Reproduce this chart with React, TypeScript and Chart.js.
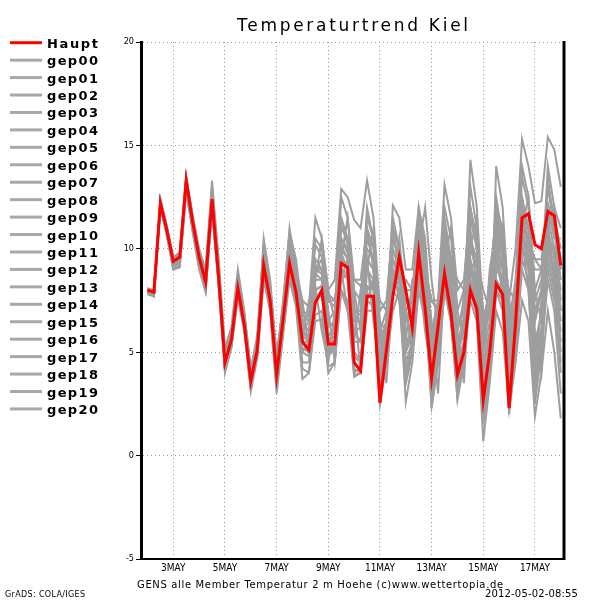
import React, { useEffect, useRef } from "react";
import { Chart, registerables } from "chart.js";

Chart.register(...registerables);

// Time axis: 6-hourly steps starting 2 May 00Z (step index)
const tickSteps = [4, 12, 20, 28, 36, 44, 52, 60];
const tickLabels = ["3MAY", "5MAY", "7MAY", "9MAY", "11MAY", "13MAY", "15MAY", "17MAY"];
const yTicks = [-5, 0, 5, 10, 15, 20];

const titleText = "Temperaturtrend Kiel";
const captionText = "GENS alle Member Temperatur 2 m Hoehe (c)www.wettertopia.de";
const dateText = "2012-05-02-08:55";
const gradsText = "GrADS: COLA/IGES";

const mainName = "Haupt";
const memberNames = [
  "gep00", "gep01", "gep02", "gep03", "gep04", "gep05", "gep06", "gep07", "gep08", "gep09", "gep10",
  "gep11", "gep12", "gep13", "gep14", "gep15", "gep16", "gep17", "gep18", "gep19", "gep20",
];

const haupt = [8.0,7.9,12.2,10.9, 9.4,9.6,13.3,11.3, 9.6,8.4,12.4,8.7, 4.5,5.6,8.1,6.3, 3.6,5.1,9.2,7.5, 3.9,6.6,9.3,7.9, 5.5,5.1,7.4,8.0, 5.4,5.4,9.3,9.1, 4.5,4.1,7.7,7.7, 2.55,5.1,7.7,9.6, 8.0,6.2,9.8,7.1, 3.75,6.25,8.8,6.9, 3.9,5.0,8.0,7.1, 2.7,5.0,8.3,7.8, 2.3,6.4,11.5,11.7, 10.2,10.0,11.8,11.6, 9.2];

const gep00 = [8.0,7.8,12.3,11.0, 9.3,9.5,13.1,11.2, 9.5,8.6,12.8,9.0, 4.6,5.8,8.4,6.5, 3.8,5.3,9.6,7.8, 4.2,6.8,9.8,8.2, 6.0,5.6,8.8,8.5, 5.8,6.0,10.2,9.5, 5.0,4.6,8.2,8.0, 3.2,5.6,9.0,8.4, 5.0,5.8,10.5,8.0, 4.2,6.0,9.2,7.5, 4.5,5.5,9.0,7.6, 3.5,5.4,9.5,8.0, 4.0,6.5,11.0,9.0, 5.5,6.8,10.5,8.5, 6.0];
const gep01 = [7.9,7.7,12.0,10.7, 9.1,9.3,13.0,11.0, 9.2,8.0,12.0,8.5, 4.3,5.4,8.0,6.2, 3.4,5.0,9.0,7.3, 3.6,6.4,9.5,8.4, 6.8,6.5,10.2,9.6, 6.5,6.2,11.5,10.5, 7.0,6.8,12.0,10.4, 5.5,6.5,11.0,9.0, 4.0,5.5,9.5,7.5, 3.0,5.0,8.5,7.0, 3.5,5.0,8.5,7.5, 2.5,5.0,9.0,8.5, 4.5,6.0,10.0,9.0, 6.5,8.0,13.5,11.0, 8.5];
const gep02 = [8.1,8.0,12.4,11.1, 9.6,9.8,13.4,11.6, 9.9,8.9,13.3,9.4, 5.0,6.0,8.8,6.8, 4.0,5.5,10.0,8.0, 4.5,7.0,10.5,8.8, 6.5,6.8,8.0,8.2, 7.8,7.5,8.5,8.8, 8.5,8.2,9.0,8.0, 6.5,6.0,8.0,8.5, 8.5,8.0,9.5,9.0, 7.5,7.0,8.0,8.0, 6.5,6.5,9.0,9.5, 8.0,7.0,8.5,8.0, 6.5,7.5,10.5,10.0, 9.0,9.0,12.2,11.0, 7.5];
const gep03 = [7.8,7.7,12.1,10.6, 9.0,9.1,12.8,10.8, 9.0,7.9,12.1,8.4, 4.0,5.2,7.6,6.0, 3.2,4.8,8.6,7.0, 3.2,6.0,8.8,7.3, 4.2,4.0,6.5,6.6, 4.3,4.5,8.0,7.0, 3.9,4.0,7.8,7.5, 2.6,4.8,8.0,7.5, 3.5,5.0,9.0,7.0, 2.4,4.5,8.0,6.5, 2.8,4.5,7.5,6.5, 0.7,3.5,7.0,6.0, 2.2,4.5,7.5,6.5, 1.9,4.0,7.0,5.0, 1.8];
const gep04 = [8.0,7.9,12.2,10.9, 9.4,9.7,13.2,11.4, 9.7,8.6,12.6,9.2, 4.8,5.8,8.5,6.8, 4.0,5.6,9.8,8.2, 4.6,7.5,10.8,9.5, 7.0,6.8,10.5,10.0, 7.5,7.2,11.0,10.5, 8.0,7.5,11.5,10.5, 6.0,7.0,10.5,9.5, 6.5,7.5,11.5,9.5, 5.5,7.0,11.0,9.5, 6.0,7.5,12.0,10.5, 6.5,8.0,12.0,11.0, 7.5,10.0,15.3,14.0, 12.2,12.3,15.4,14.8, 13.0];
const gep05 = [8.0,8.0,12.1,10.8, 9.2,9.4,13.0,11.1, 9.4,8.2,12.2,8.8, 4.4,5.5,8.2,6.4, 3.7,5.2,9.4,7.7, 4.0,7.0,10.2,9.0, 7.5,7.2,11.5,10.5, 8.0,8.5,12.9,12.5, 11.4,11.0,13.3,11.5, 7.0,7.5,11.0,9.0, 5.0,6.5,10.0,8.0, 4.0,6.0,9.5,8.0, 5.5,6.5,10.5,9.0, 5.0,6.5,11.0,9.5, 6.0,8.0,12.5,10.0, 5.0,6.0,9.0,7.5, 6.5];
const gep06 = [7.9,7.8,12.3,11.0, 9.5,9.6,13.5,11.5, 9.6,8.5,12.5,8.9, 4.6,5.6,8.0,6.2, 3.5,5.0,9.1,7.4, 3.8,6.5,9.2,7.8, 5.5,5.2,8.0,8.2, 5.5,5.8,9.8,9.0, 4.2,4.0,7.5,7.2, 2.5,4.5,7.0,8.0, 7.5,7.0,9.5,7.5, 3.5,6.0,9.0,7.0, 4.0,5.0,8.5,7.0, 2.5,4.5,8.0,7.5, 2.5,6.5,11.0,10.5, 9.5,9.5,11.5,11.0, 9.0];
const gep07 = [8.0,7.8,12.0,10.8, 9.2,9.5,13.2,11.2, 9.4,8.3,12.3,8.6, 4.4,5.5,8.6,6.6, 3.9,5.4,10.5,8.5, 4.8,7.2,11.0,9.0, 5.0,5.5,8.5,10.5, 8.0,6.5,9.5,11.5, 8.0,6.0,9.0,11.0, 6.5,4.5,8.0,10.5, 7.0,5.5,10.0,12.0, 8.5,6.0,9.5,11.0, 7.0,5.5,10.0,11.5, 6.0,4.5,9.0,11.0, 7.5,6.0,11.0,12.5, 8.0,6.5,11.0,12.0, 9.0];
const gep08 = [8.0,7.9,12.3,11.0, 9.4,9.5,13.2,11.3, 9.6,8.4,12.4,8.7, 4.5,5.6,8.1,6.3, 3.6,5.1,9.2,7.5, 3.9,6.6,9.3,7.9, 5.5,5.1,7.4,8.0, 5.4,5.5,9.3,9.1, 4.5,4.1,7.7,7.7, 2.8,5.2,8.0,8.5, 4.5,5.5,9.5,7.0, 3.0,5.5,8.5,6.5, 3.2,4.8,8.0,6.8, 2.0,4.5,8.5,7.5, 2.8,5.5,9.5,8.5, 4.5,6.0,9.5,8.0, 4.0];
const gep09 = [7.9,7.8,12.2,10.8, 9.3,9.4,13.0,11.0, 9.3,8.1,12.0,8.3, 4.2,5.3,7.8,6.1, 3.3,4.9,8.8,7.2, 3.4,6.2,8.8,7.6, 4.5,4.5,7.5,7.8, 4.8,5.2,9.0,8.5, 3.8,4.0,8.0,8.5, 4.0,6.0,10.0,9.0, 6.0,6.5,10.0,8.0, 2.3,4.5,8.0,7.0, 2.7,4.5,8.0,7.0, 3.0,5.5,9.5,8.5, 4.0,7.0,12.0,10.0, 3.5,5.5,10.0,8.5, 5.5];
const gep10 = [8.0,8.0,12.3,10.9, 9.6,9.8,13.5,11.6, 10.0,9.0,13.0,9.6, 5.2,6.2,9.0,7.0, 4.2,5.8,10.2,8.2, 4.8,7.3,10.6,9.0, 6.5,6.0,9.0,8.8, 5.0,5.5,10.5,10.0, 5.5,5.5,9.5,9.0, 4.0,6.0,12.1,11.5, 9.0,9.0,12.0,10.5, 6.0,7.5,13.1,11.5, 8.0,8.5,12.0,10.0, 6.0,7.0,10.5,9.0, 5.0,7.0,12.0,11.0, 8.0,9.0,13.0,11.5, 10.0];
const gep11 = [7.9,7.7,12.1,10.8, 9.2,9.3,12.9,11.0, 9.2,8.0,11.8,8.4, 4.3,5.5,8.3,6.6, 3.6,5.2,9.5,7.6, 3.7,6.5,9.6,8.0, 5.5,5.5,9.5,9.0, 6.5,7.0,12.5,11.5, 8.5,8.5,11.0,9.0, 5.0,6.0,9.5,8.5, 3.5,5.0,9.0,7.5, 5.0,6.5,10.5,8.5, 4.5,6.5,14.3,12.0, 6.5,8.0,11.5,9.5, 4.0,6.5,11.5,10.5, 7.0,8.0,11.0,9.5, 7.0];
const gep12 = [8.1,7.9,12.2,11.0, 9.4,9.6,13.3,11.4, 9.8,8.8,12.9,9.3, 4.7,5.9,8.6,6.7, 3.9,5.4,9.7,7.9, 4.4,6.9,10.0,8.5, 7.5,5.0,9.0,9.5, 7.0,4.5,8.5,9.5, 7.5,4.0,7.5,8.5, 6.0,3.5,8.0,9.0, 7.0,5.0,9.5,9.0, 6.5,3.0,8.5,9.0, 6.0,3.5,9.0,9.5, 7.0,4.0,14.0,12.0, 7.0,4.5,11.0,11.0, 6.0,4.0,10.5,10.0, 8.0];
const gep13 = [7.9,7.8,12.0,10.7, 9.0,9.2,12.7,10.9, 9.1,8.0,12.1,8.5, 4.1,5.3,7.9,6.2, 3.1,4.7,8.5,7.0, 3.0,5.8,8.5,7.2, 3.7,4.0,6.8,7.0, 4.0,4.5,8.0,7.5, 4.0,4.3,9.0,8.5, 3.5,5.0,8.5,8.0, 2.6,4.5,8.0,6.5, 3.5,5.0,8.0,6.5, 3.0,5.0,9.0,8.0, 1.5,4.0,8.0,7.0, 2.0,5.0,9.0,8.0, 2.5,5.0,8.5,7.0, 3.0];
const gep14 = [8.0,7.9,12.4,11.1, 9.5,9.7,13.4,11.5, 9.7,8.7,12.7,9.1, 4.6,5.7,8.3,6.5, 3.7,5.2,9.3,7.6, 4.0,6.7,9.6,8.0, 5.8,5.5,8.5,8.5, 5.6,6.0,10.5,9.8, 6.0,5.5,9.5,9.0, 4.8,6.2,11.0,10.0, 6.5,7.0,12.0,10.0, 6.0,7.0,11.5,9.5, 5.5,6.5,11.5,10.0, 5.5,7.0,12.5,10.5, 6.5,8.5,14.0,12.5, 7.5,8.5,13.0,11.0, 9.5];
const gep15 = [7.9,7.7,12.2,10.9, 9.3,9.5,13.1,11.2, 9.4,8.3,12.3,8.7, 4.5,5.6,8.2,6.4, 3.5,5.0,9.0,7.4, 3.8,6.4,9.1,7.7, 5.0,4.8,7.5,7.8, 5.0,5.2,9.5,9.2, 4.8,4.5,8.0,8.2, 3.5,5.5,9.5,8.8, 5.5,6.0,9.5,7.8, 3.5,5.5,9.5,8.0, 4.0,5.5,9.5,8.0, 3.0,5.0,10.0,9.0, 5.0,7.0,11.0,9.5, 4.0,6.0,10.5,9.0, 6.5];
const gep16 = [8.0,7.9,12.1,10.8, 9.3,9.5,13.2,11.2, 9.5,8.4,12.5,8.9, 4.7,5.8,8.7,6.8, 4.1,5.6,10.0,8.1, 4.5,7.0,10.3,8.6, 6.3,6.0,9.2,9.0, 6.2,6.5,11.2,10.2, 6.5,6.5,10.5,9.5, 5.5,6.5,10.5,9.5, 7.0,7.5,11.5,9.5, 5.0,7.0,12.0,10.5, 7.0,8.0,13.0,11.0, 5.5,7.5,12.0,10.0, 3.5,6.5,13.5,12.0, 6.5,8.0,14.0,12.0, 11.0];
const gep17 = [7.9,7.8,12.3,10.9, 9.4,9.6,13.3,11.3, 9.5,8.4,12.4,8.8, 4.4,5.5,8.0,6.2, 3.4,5.0,9.0,7.3, 3.7,6.3,9.0,7.6, 6.0,6.5,9.0,9.0, 7.5,7.5,9.5,9.0, 7.0,7.0,10.0,9.5, 7.5,7.0,11.5,10.0, 8.0,8.0,11.0,9.0, 7.5,7.5,10.0,9.5, 8.5,8.0,9.0,8.5, 7.0,7.0,10.0,9.0, 8.0,7.5,11.5,10.0, 9.5,9.0,12.0,10.5, 10.5];
const gep18 = [8.0,7.9,12.2,10.9, 9.4,9.6,13.3,11.3, 9.6,8.4,12.4,8.7, 4.5,5.6,8.1,6.3, 3.6,5.1,9.2,7.5, 4.1,6.8,9.5,8.0, 5.2,5.0,8.0,8.2, 5.2,5.5,9.0,8.8, 4.2,4.0,7.0,7.0, 3.0,5.0,8.5,8.0, 4.0,5.0,8.5,7.0, 3.0,5.0,9.0,8.0, 3.5,5.0,10.0,9.0, 4.5,6.0,9.5,8.0, 3.5,5.5,10.0,9.5, 3.0,5.5,9.5,8.0, 4.5];
const gep19 = [8.0,7.9,12.2,10.8, 9.2,9.4,13.0,11.1, 9.3,8.2,12.2,8.6, 4.4,5.4,8.0,6.3, 3.7,5.2,9.4,7.7, 4.0,6.6,9.4,8.1, 5.6,7.5,8.2,6.0, 4.5,7.0,9.0,7.0, 5.5,8.0,9.5,6.5, 4.5,6.5,9.0,7.5, 5.5,8.5,9.0,6.0, 4.0,7.5,10.0,8.0, 4.0,8.0,11.0,8.0, 5.0,9.0,11.0,7.5, 4.0,8.0,10.5,8.0, 3.5,7.5,11.0,8.5, 5.0];
const gep20 = [7.9,7.9,12.3,11.0, 9.5,9.7,13.4,11.5, 9.7,8.6,12.6,9.0, 4.6,5.7,8.3,6.5, 3.8,5.3,9.5,7.8, 4.3,6.9,9.9,8.3, 6.0,5.8,9.0,8.8, 5.8,6.2,10.0,9.5, 6.0,6.2,11.0,10.0, 5.0,6.0,10.0,9.0, 6.0,6.5,10.5,8.5, 5.5,7.0,11.0,9.0, 5.0,6.0,10.5,9.5, 4.0,6.0,11.0,10.0, 5.5,7.5,12.5,11.0, 5.0,7.0,11.5,10.0, 7.0];

const members = [
  gep00, gep01, gep02, gep03, gep04, gep05, gep06, gep07, gep08, gep09, gep10,
  gep11, gep12, gep13, gep14, gep15, gep16, gep17, gep18, gep19, gep20,
];

const RED = "#ff0000";
const GREY = "rgb(158,158,158)";
const LEGEND_GREY = "rgb(168,168,168)";
const SANS = "'DejaVu Sans', 'Liberation Sans', sans-serif";
const NARROW = "'Liberation Sans Narrow', 'DejaVu Sans Condensed', 'Liberation Sans', sans-serif";

function fitText(ctx: CanvasRenderingContext2D, text: string, x: number, y: number, width: number, font: string) {
  ctx.save();
  ctx.font = font;
  (ctx as any).letterSpacing = "0px";
  const w = ctx.measureText(text).width;
  const ls = text.length > 1 ? (width - w) / (text.length - 1) : 0;
  (ctx as any).letterSpacing = ls.toFixed(2) + "px";
  ctx.textAlign = "left";
  ctx.textBaseline = "alphabetic";
  ctx.fillText(text, x, y);
  ctx.restore();
}

const decorPlugin = {
  id: "decor",
  beforeDraw(chart: any) {
    const { ctx, width, height } = chart;
    ctx.save();
    ctx.fillStyle = "#ffffff";
    ctx.fillRect(0, 0, width, height);
    ctx.restore();
  },
  afterDraw(chart: any) {
    const { ctx, chartArea } = chart;
    const { right, top, bottom } = chartArea;
    // right frame
    ctx.save();
    ctx.strokeStyle = "#000";
    ctx.lineWidth = 3;
    ctx.beginPath();
    ctx.moveTo(right, top - 1);
    ctx.lineTo(right, bottom + 1);
    ctx.stroke();
    ctx.restore();

    // texts
    ctx.save();
    ctx.fillStyle = "#000";
    fitText(ctx, titleText, 237, 31, 231, "17px " + SANS);
    fitText(ctx, captionText, 137, 588, 366, "10px " + SANS);
    fitText(ctx, dateText, 485, 597, 93, "10px " + SANS);
    fitText(ctx, gradsText, 5, 597, 80, "8px " + SANS);
    ctx.restore();

    // legend
    const names = [mainName, ...memberNames];
    const rowH = 17.44;
    names.forEach((name, i) => {
      const y = 42.7 + i * rowH;
      ctx.save();
      ctx.strokeStyle = i === 0 ? RED : LEGEND_GREY;
      ctx.lineWidth = 3;
      ctx.beginPath();
      ctx.moveTo(10, y);
      ctx.lineTo(42, y);
      ctx.stroke();
      ctx.fillStyle = "#000";
      fitText(ctx, name, 47, y + 5, 51, "bold 13px " + SANS);
      ctx.restore();
    });
  },
};

export default function App() {
  const ref = useRef<HTMLCanvasElement>(null);

  useEffect(() => {
    if (!ref.current) return;
    const toPoints = (arr: number[]) => arr.map((v, i) => ({ x: i, y: v }));
    const datasets: any[] = [
      {
        label: mainName,
        data: toPoints(haupt),
        borderColor: RED,
        borderWidth: 3,
        pointRadius: 0,
        tension: 0,
        order: 0,
      },
      ...members.map((m, k) => ({
        label: memberNames[k],
        data: toPoints(m),
        borderColor: GREY,
        borderWidth: 2,
        pointRadius: 0,
        tension: 0,
        order: 1,
      })),
    ];

    const chart = new Chart(ref.current, {
      type: "line",
      data: { datasets },
      plugins: [decorPlugin],
      options: {
        animation: false,
        responsive: false,
        devicePixelRatio: 1,
        layout: { padding: { left: 0, top: 42, right: 36, bottom: 0 } },
        plugins: {
          legend: { display: false },
          tooltip: { enabled: false },
          title: { display: false },
        },
        elements: { point: { radius: 0 }, line: { tension: 0 } },
        scales: {
          x: {
            type: "linear",
            min: -1,
            max: 64.5,
            afterBuildTicks: (s: any) => {
              s.ticks = tickSteps.map((v) => ({ value: v }));
            },
            afterFit: (s: any) => {
              s.height = 41;
            },
            ticks: {
              autoSkip: false,
              maxRotation: 0,
              padding: 3,
              color: "#000",
              font: { family: NARROW, size: 10 },
              callback: (v: any) => {
                const idx = tickSteps.indexOf(Number(v));
                return idx >= 0 ? tickLabels[idx] : "";
              },
            },
            grid: { color: "#9a9a9a", lineWidth: 1, drawTicks: false },
            border: { display: true, color: "#000", width: 2, dash: [1, 3] },
          },
          y: {
            min: -5,
            max: 20,
            afterBuildTicks: (s: any) => {
              s.ticks = yTicks.map((v) => ({ value: v }));
            },
            afterFit: (s: any) => {
              s.width = 141;
            },
            ticks: {
              color: "#000",
              padding: 2,
              font: { family: NARROW, size: 9 },
            },
            grid: { color: "#9a9a9a", lineWidth: 1, tickColor: "#000", tickLength: 5 },
            border: { display: true, color: "#000", width: 3, dash: [1, 3] },
          },
        },
      } as any,
    });
    return () => chart.destroy();
  }, []);

  return (
    <div style={{ position: "fixed", left: 0, top: 0, width: 600, height: 600, background: "#fff" }}>
      <canvas ref={ref} width={600} height={600} style={{ display: "block", width: 600, height: 600 }} />
    </div>
  );
}
